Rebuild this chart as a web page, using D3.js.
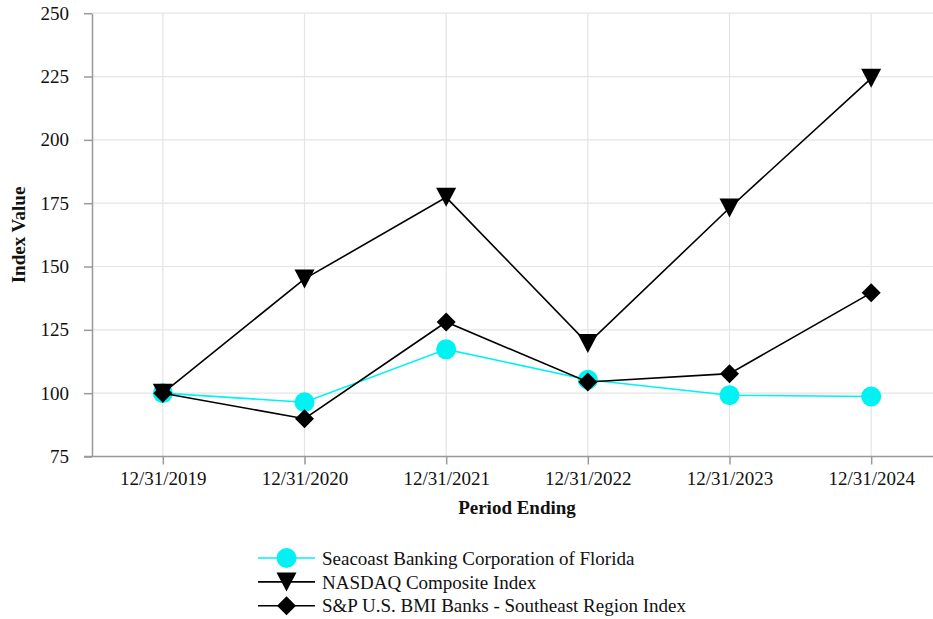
<!DOCTYPE html>
<html>
<head>
<meta charset="utf-8">
<script src="https://cdn.jsdelivr.net/npm/d3@7"></script>
<style>
  body { margin: 0; background: #fff; }
  svg { display: block; font-family: "Liberation Serif", "Times New Roman", serif; }
</style>
</head>
<body>
<svg id="chart" width="933" height="619"></svg>
<script>
const categories = ["12/31/2019", "12/31/2020", "12/31/2021", "12/31/2022", "12/31/2023", "12/31/2024"];
const seacoast = [100, 96.4, 117.3, 105.3, 99.2, 98.7];
const nasdaq = [100, 145.1, 177.3, 119.6, 173.1, 224.3];
const spSoutheast = [100, 89.9, 128.1, 104.4, 107.7, 139.6];
const yTicks = [75, 100, 125, 150, 175, 200, 225, 250];
const seriesNames = ["Seacoast Banking Corporation of Florida", "NASDAQ Composite Index", "S&P U.S. BMI Banks - Southeast Region Index"];

const svg = d3.select("#chart");
const fontSize = 19;

const x = d3.scalePoint().domain(categories).range([92, 942]).padding(0.5);
const y = d3.scaleLinear().domain([75, 250]).range([456.5, 13.2]);

// gridlines
const grid = svg.append("g");
grid.selectAll("line.h").data(yTicks.slice(1)).join("line")
  .attr("x1", 92).attr("x2", 942)
  .attr("y1", d => y(d)).attr("y2", d => y(d))
  .attr("stroke", "#e4e4e4").attr("stroke-width", 1.2);
grid.selectAll("line.v").data(categories).join("line")
  .attr("x1", d => x(d)).attr("x2", d => x(d))
  .attr("y1", y(250)).attr("y2", y(75))
  .attr("stroke", "#e4e4e4").attr("stroke-width", 1.2);

// axes
const axisColor = "#999";
const yAxis = svg.append("g").attr("transform", "translate(92,0)")
  .call(d3.axisLeft(y).tickValues(yTicks).tickSize(8).tickPadding(15).tickSizeOuter(0));
const xAxis = svg.append("g").attr("transform", `translate(0,${y(75)})`)
  .call(d3.axisBottom(x).tickSize(8).tickPadding(7).tickSizeOuter(0));
[yAxis, xAxis].forEach(a => {
  a.attr("font-family", null).attr("font-size", null);
  a.select(".domain").attr("stroke", axisColor).attr("stroke-width", 1.5);
  a.selectAll(".tick line").attr("stroke", axisColor).attr("stroke-width", 1.5);
  a.selectAll(".tick text").attr("fill", "#111").style("font-size", fontSize + "px")
    .style("font-family", "'Liberation Serif', serif");
});
xAxis.select(".domain").attr("d", `M84,0H942`);

// axis titles
svg.append("text")
  .attr("transform", "translate(25,235) rotate(-90)")
  .attr("text-anchor", "middle")
  .style("font-size", fontSize + "px").style("font-weight", "bold").attr("fill", "#111")
  .text("Index Value");
svg.append("text")
  .attr("x", 517).attr("y", 514)
  .attr("text-anchor", "middle")
  .style("font-size", fontSize + "px").style("font-weight", "bold").attr("fill", "#111")
  .text("Period Ending");

// markers
const triPath = "M-10,-9.5L10,-9.5L0,9.5Z";
const diaPath = "M0,-9.5L9.5,0L0,9.5L-9.5,0Z";
function drawMarker(g, type, color) {
  if (type === "circle") g.append("circle").attr("r", 10).attr("fill", color);
  else if (type === "tri") g.append("path").attr("d", triPath).attr("fill", color);
  else g.append("path").attr("d", diaPath).attr("fill", color);
}

const series = [
  { name: seriesNames[0], values: seacoast, color: "#00f2f2", marker: "circle" },
  { name: seriesNames[1], values: nasdaq, color: "#000", marker: "tri" },
  { name: seriesNames[2], values: spSoutheast, color: "#000", marker: "dia" }
];

const line = d3.line().x((d, i) => x(categories[i])).y(d => y(d));

series.forEach(s => {
  svg.append("path").datum(s.values)
    .attr("d", line).attr("fill", "none")
    .attr("stroke", s.color).attr("stroke-width", 1.6);
  s.values.forEach((v, i) => {
    const g = svg.append("g").attr("transform", `translate(${x(categories[i])},${y(v)})`);
    drawMarker(g, s.marker, s.color);
  });
});

// legend
const legend = svg.append("g");
series.forEach((s, i) => {
  const ly = 558 + i * 23.9;
  legend.append("line").attr("x1", 258).attr("x2", 315).attr("y1", ly).attr("y2", ly)
    .attr("stroke", s.color).attr("stroke-width", 1.6);
  const g = legend.append("g").attr("transform", `translate(286.5,${ly})`);
  drawMarker(g, s.marker, s.color);
  legend.append("text").attr("x", 322).attr("y", ly).attr("dy", "0.35em")
    .style("font-size", fontSize + "px").attr("fill", "#111").text(s.name);
});
</script>
</body>
</html>
